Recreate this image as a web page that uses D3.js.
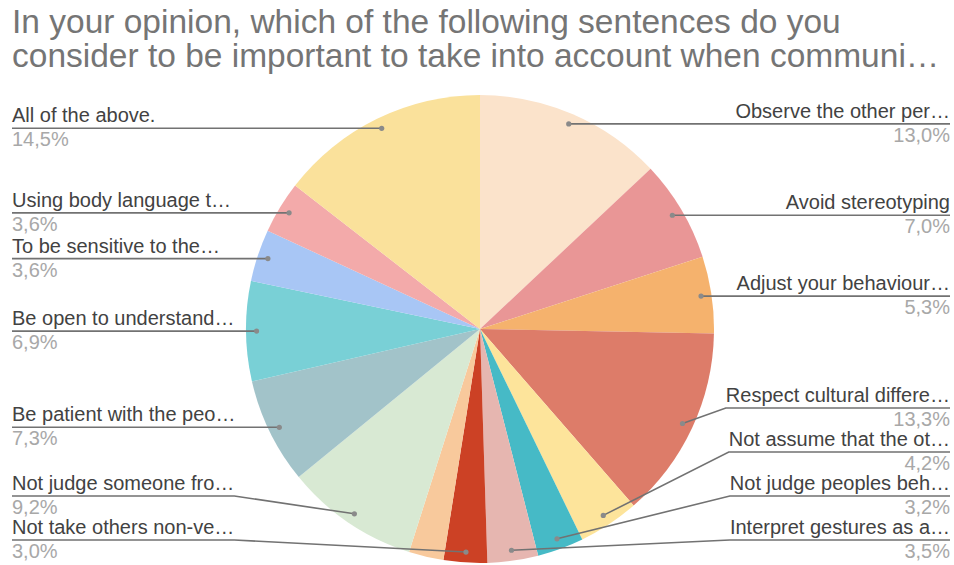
<!DOCTYPE html>
<html>
<head>
<meta charset="utf-8">
<script src="https://cdn.jsdelivr.net/npm/d3@7"></script>
<style>
  html, body { margin: 0; padding: 0; background: #fff; }
  svg { display: block; font-family: "Liberation Sans", Arial, sans-serif; }
</style>
</head>
<body>
<svg id="chart" width="954" height="565"></svg>
<script>
// Survey answers, clockwise from 12 o'clock
const titleLines = [
  "In your opinion, which of the following sentences do you",
  "consider to be important to take into account when communi…"
];
const categories = [
  "Observe the other per…",
  "Avoid stereotyping",
  "Adjust your behaviour…",
  "Respect cultural differe…",
  "Not assume that the ot…",
  "Not judge peoples beh…",
  "Interpret gestures as a…",
  "Not take others non-ve…",
  "",
  "Not judge someone fro…",
  "Be patient with the peo…",
  "Be open to understand…",
  "To be sensitive to the…",
  "Using body language t…",
  "All of the above."
];
const shares = [13.0, 7.0, 5.3, 13.3, 4.2, 3.2, 3.5, 3.0, 2.4, 9.2, 7.3, 6.9, 3.6, 3.6, 14.5];
const sliceColors = [
  "#fbe3cb", "#e99696", "#f5b26d", "#dd7c69", "#fde49b", "#46bac6", "#e6b6b0",
  "#cc4125", "#f8c99c", "#d8e9d3", "#a2c3c9", "#79d0d6", "#a8c6f5", "#f3aaaa", "#fae19b"
];

const W = 954, H = 565;
const cx = 480, cy = 329, R = 234;
const fontSize = 20;
const leftX = 12, rightX = 950;
const minGap = 44, maxLabelY = 540;

const svg = d3.select("#chart");

// Title, two lines
svg.append("g").selectAll("text").data(titleLines).join("text")
  .attr("x", 12)
  .attr("y", (d, i) => 33 + i * 34)
  .attr("fill", "#757575")
  .style("font-size", "33.5px")
  .text(d => d);

const pie = d3.pie().sort(null).value(d => d);
const arcs = pie(shares);
const arc = d3.arc().innerRadius(0).outerRadius(R);
const anchorArc = d3.arc().innerRadius(R * 0.955).outerRadius(R * 0.955);

const g = svg.append("g").attr("transform", `translate(${cx},${cy})`);
g.selectAll("path.slice").data(arcs).join("path")
  .attr("class", "slice")
  .attr("d", arc)
  .attr("fill", (d, i) => sliceColors[i]);

// Label anchors
const fmt = v => d3.format(".1f")(v).replace(".", ",") + "%";
const labels = arcs.map((a, i) => {
  const [x, y] = anchorArc.centroid(a);
  const mid = (a.startAngle + a.endAngle) / 2;
  return {
    name: categories[i], value: shares[i],
    dx: cx + x, dy: cy + y,
    side: mid < Math.PI ? "right" : "left"
  };
}).filter(d => d.name);

// Stack labels on each side so they keep a minimum vertical gap
["left", "right"].forEach(side => {
  const items = labels.filter(d => d.side === side).sort((a, b) => a.dy - b.dy);
  let limit = maxLabelY;
  for (let i = items.length - 1; i >= 0; i--) {
    items[i].ly = Math.min(items[i].dy, limit);
    limit = items[i].ly - minGap;
  }
});

const lg = svg.append("g");
const items = lg.selectAll("g.label").data(labels).join("g").attr("class", "label");

items.append("text")
  .attr("class", "name")
  .attr("x", d => d.side === "left" ? leftX : rightX)
  .attr("y", d => d.ly - 6)
  .attr("text-anchor", d => d.side === "left" ? "start" : "end")
  .attr("fill", "#424242")
  .style("font-size", fontSize + "px")
  .text(d => d.name);

items.append("text")
  .attr("x", d => d.side === "left" ? leftX : rightX)
  .attr("y", d => d.ly + 18)
  .attr("text-anchor", d => d.side === "left" ? "start" : "end")
  .attr("fill", "#a8a8a8")
  .style("font-size", fontSize + "px")
  .text(d => fmt(d.value));

items.each(function(d) {
  const w = d3.select(this).select("text.name").node().getComputedTextLength();
  const x0 = d.side === "left" ? leftX : rightX;
  const x1 = d.side === "left" ? leftX + w : rightX - w;
  const path = d3.path();
  path.moveTo(x0, d.ly);
  path.lineTo(x1, d.ly);
  path.lineTo(d.dx, d.dy);
  d3.select(this).insert("path", "text")
    .attr("d", path.toString())
    .attr("fill", "none")
    .attr("stroke", "#727272")
    .attr("stroke-width", 1.6);
  d3.select(this).append("circle")
    .attr("cx", d.dx).attr("cy", d.dy).attr("r", 2.6)
    .attr("fill", "#8a8a8a");
});
</script>
</body>
</html>
